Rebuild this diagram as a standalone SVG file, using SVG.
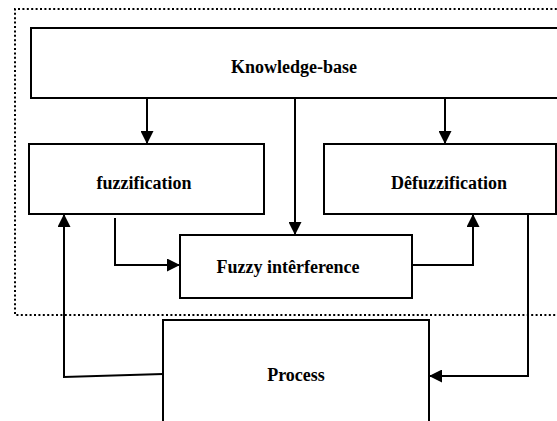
<svg xmlns="http://www.w3.org/2000/svg" width="557" height="421" viewBox="0 0 557 421">
  <style>
    .box { fill: #ffffff; stroke: #000000; stroke-width: 2; }
    .lbl { font-size: 18px; font-weight: bold; fill: #000000; text-anchor: middle; }
    .conn { fill: none; stroke: #000000; stroke-width: 2; }
    .dotted { fill: none; stroke: #000000; stroke-width: 2; stroke-dasharray: 2 2.4; }
  </style>
  <defs>
    <marker id="arr" markerUnits="userSpaceOnUse" markerWidth="14" markerHeight="13" refX="13" refY="6.5" orient="auto">
      <path d="M0,0 L13,6.5 L0,13 z" fill="#000000"/>
    </marker>
  </defs>
  <rect x="0" y="0" width="557" height="421" fill="#ffffff"/>

  <g id="boundary">
    <path class="dotted" d="M570,9 H15 V315 H570"/>
  </g>

  <g font-family="'Liberation Serif', 'Times New Roman', 'DejaVu Serif', serif">
  <g id="knowledge-base">
    <rect class="box" x="31" y="28" width="545" height="70"/>
    <text class="lbl" x="294" y="73">Knowledge-base</text>
  </g>

  <g id="fuzzification">
    <rect class="box" x="29" y="144" width="235" height="70"/>
    <text class="lbl" x="144" y="189">fuzzification</text>
  </g>

  <g id="defuzzification">
    <rect class="box" x="324" y="144" width="232" height="70"/>
    <text class="lbl" x="449" y="189">Dêfuzzification</text>
  </g>

  <g id="fuzzy-interference">
    <rect class="box" x="180" y="235" width="232" height="63"/>
    <text class="lbl" x="288" y="273">Fuzzy intêrference</text>
  </g>

  <g id="process">
    <rect class="box" x="163" y="320" width="266" height="130"/>
    <text class="lbl" x="296" y="381">Process</text>
  </g>
  </g>

  <g id="connectors">
    <path class="conn" d="M147,98 V144" marker-end="url(#arr)"/>
    <path class="conn" d="M295,98 V235" marker-end="url(#arr)"/>
    <path class="conn" d="M445,98 V144" marker-end="url(#arr)"/>
    <path class="conn" d="M115,218 V265 H180" marker-end="url(#arr)"/>
    <path class="conn" d="M412,265 H473 V214" marker-end="url(#arr)"/>
    <path class="conn" d="M528,214 V376 H429" marker-end="url(#arr)"/>
    <path class="conn" d="M163,374 L64,377 V214" marker-end="url(#arr)"/>
  </g>
</svg>
